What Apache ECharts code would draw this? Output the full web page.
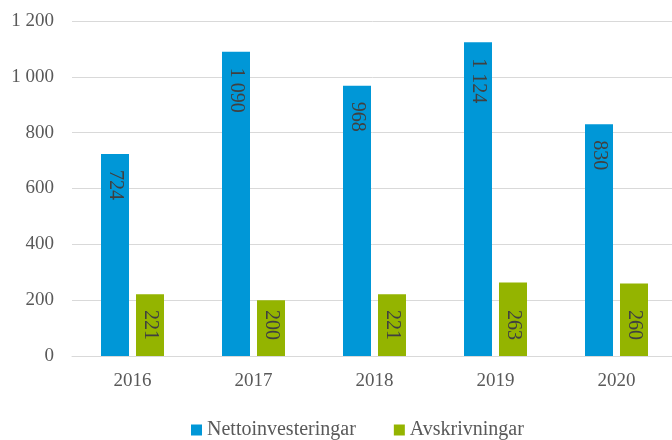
<!DOCTYPE html>
<html>
<head>
<meta charset="utf-8">
<script src="https://cdn.jsdelivr.net/npm/echarts@6/dist/echarts.min.js"></script>
<style>
  html, body { margin: 0; padding: 0; background: #fff; }
  #main { width: 672px; height: 440px; }
</style>
</head>
<body>
<div id="main"></div>
<script>
  var years = ['2016', '2017', '2018', '2019', '2020'];
  var netto = [724, 1090, 968, 1124, 830];   // Nettoinvesteringar
  var avskr = [221, 200, 221, 263, 260];     // Avskrivningar

  var font = "'Liberation Serif', 'DejaVu Serif', serif";
  // 1 200 style numbers
  function fmt(v) {
    return String(v).replace(/\B(?=(\d{3})+(?!\d))/g, ' ');
  }

  // rotated label, reads top to bottom
  function barLabel(pos, align) {
    return {
      show: true,
      position: pos,
      distance: 16,
      rotate: -90,
      align: align,
      verticalAlign: 'middle',
      color: '#404040',
      fontFamily: font,
      fontSize: 20,
      formatter: function (p) { return fmt(p.value); }
    };
  }

  var myChart = echarts.init(document.getElementById('main'));
  myChart.setOption({
    animation: false,
    textStyle: { fontFamily: font },
    grid: {
      left: 72,
      top: 21,
      width: 605,
      height: 335,
      containLabel: false,
      outerBoundsMode: 'none'
    },
    legend: {
      top: 415,
      left: 186,
      itemWidth: 11,
      itemHeight: 11,
      itemGap: 38,
      icon: 'rect',
      textStyle: { fontFamily: font, fontSize: 20, color: '#595959' },
      data: ['Nettoinvesteringar', 'Avskrivningar']
    },
    xAxis: {
      type: 'category',
      data: years,
      axisTick: { show: false },
      axisLine: { lineStyle: { color: '#D9D9D9', width: 1 } },
      axisLabel: { fontFamily: font, fontSize: 19, color: '#595959', margin: 16 }
    },
    yAxis: {
      type: 'value',
      min: 0,
      max: 1200,
      interval: 200,
      axisLine: { show: false },
      axisTick: { show: false },
      splitLine: { lineStyle: { color: '#D9D9D9', width: 1 } },
      axisLabel: {
        fontFamily: font, fontSize: 19, color: '#595959', margin: 18,
        formatter: function (v) { return fmt(v); }
      }
    },
    series: [
      {
        name: 'Nettoinvesteringar',
        type: 'bar',
        barWidth: 28,
        barGap: '25%',
        itemStyle: { color: '#0097D7' },
        label: barLabel('insideTop', 'left'),
        data: netto
      },
      {
        name: 'Avskrivningar',
        type: 'bar',
        barWidth: 28,
        itemStyle: { color: '#94B400' },
        label: barLabel('insideBottom', 'right'),
        data: avskr
      }
    ]
  });
</script>
</body>
</html>
